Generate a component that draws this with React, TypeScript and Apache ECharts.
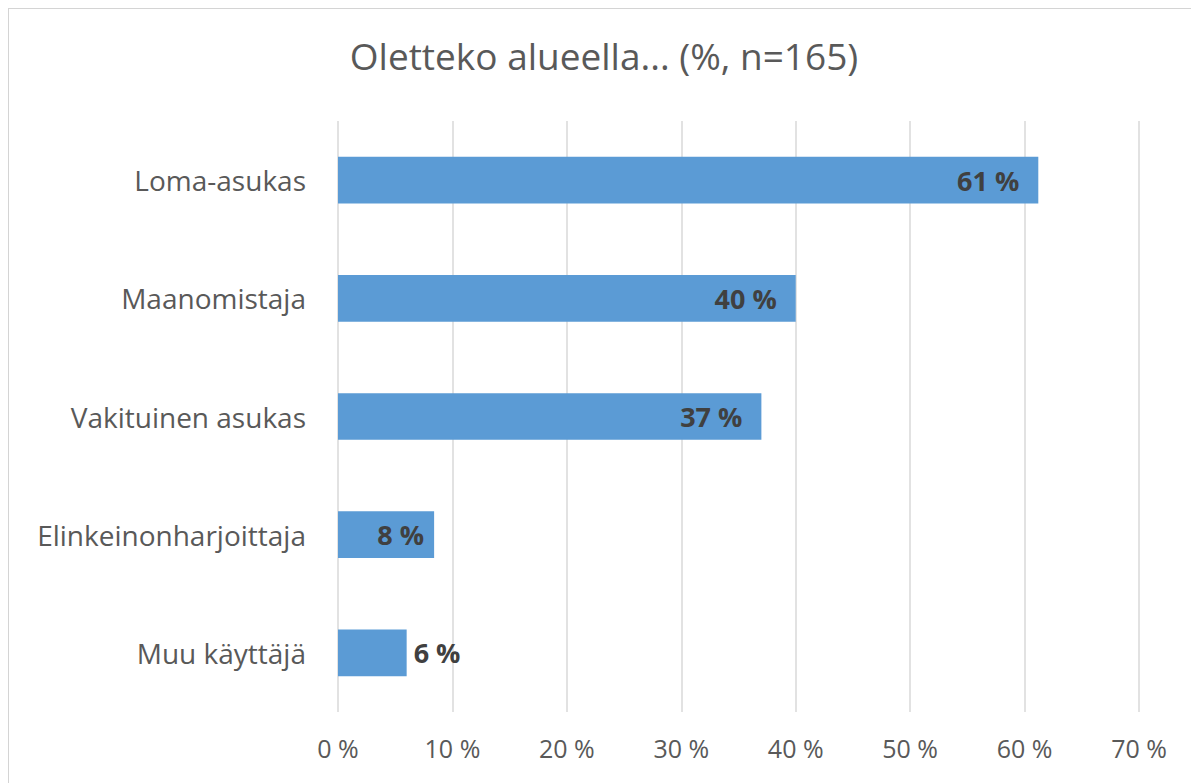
import React, { useEffect, useRef } from "react";
import * as echarts from "echarts";

const titleText = "Oletteko alueella... (%, n=165)";
const categories = ["Loma-asukas", "Maanomistaja", "Vakituinen asukas", "Elinkeinonharjoittaja", "Muu käyttäjä"];
const values = [61.2, 40.0, 37.0, 8.4, 6.0];
const xTicks = [0, 10, 20, 30, 40, 50, 60, 70];

const FONT = "Open Sans";

export default function App() {
  const ref = useRef<HTMLDivElement>(null);
  useEffect(() => {
    document.body.style.overflow = "hidden";
    const chart = echarts.init(ref.current!, null, { renderer: "svg" });
    const n = values.length;
    chart.setOption({
      animation: false,
      backgroundColor: "#ffffff",
      title: {
        text: titleText,
        left: "center",
        top: 23,
        textStyle: { fontFamily: FONT, fontSize: 37, fontWeight: "normal", color: "#595959" },
      },
      grid: { left: 329, right: 60, top: 112, bottom: 71, containLabel: false },
      xAxis: {
        type: "value",
        min: xTicks[0],
        max: xTicks[xTicks.length - 1],
        interval: 10,
        axisLine: { show: false },
        axisTick: { show: false },
        splitLine: { show: true, lineStyle: { color: "#d9d9d9", width: 1.5 } },
        axisLabel: {
          fontFamily: FONT,
          fontSize: 25,
          color: "#595959",
          margin: 23,
          formatter: (v: number) => `${v} %`,
        },
      },
      yAxis: {
        type: "category",
        data: categories,
        inverse: true,
        axisLine: { show: false },
        axisTick: { show: false },
        splitLine: { show: false },
        axisLabel: { fontFamily: FONT, fontSize: 28, color: "#595959", margin: 32 },
      },
      series: [
        {
          type: "bar",
          barWidth: "39.5%",
          data: values.map((v, i) => {
            const last = i === n - 1;
            return {
              value: v,
              label: last
                ? { position: "right", distance: 7 }
                : { position: "insideRight", distance: v < 10 ? 10 : 19 },
            };
          }),
          itemStyle: { color: "#5b9bd5" },
          label: {
            show: true,
            fontFamily: FONT,
            fontSize: 27,
            fontWeight: "bold",
            color: "#404040",
            formatter: (p: any) => `${Math.round(p.value)} %`,
          },
        },
      ],
    });
    return () => chart.dispose();
  }, []);
  return (
    <div
      ref={ref}
      style={{
        width: 1191,
        height: 775,
        borderTop: "1px solid #d4d4d4",
        borderLeft: "1px solid #d4d4d4",
        boxSizing: "border-box",
      }}
    />
  );
}
